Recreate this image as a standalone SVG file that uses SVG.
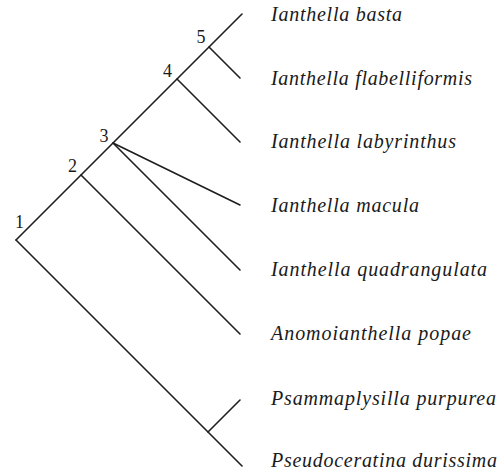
<svg xmlns="http://www.w3.org/2000/svg" width="504" height="473" viewBox="0 0 504 473">
<style>
.br{stroke:#1e1e1e;stroke-width:1.6;fill:none;stroke-linecap:round}
.sp{font-family:"Liberation Serif","Times New Roman",serif;font-style:italic;font-size:20px;fill:#1a1a1a}
.nm{font-family:"Liberation Serif","Times New Roman",serif;font-size:18px;fill:#1a1a1a;text-anchor:middle}
</style>
<rect width="504" height="473" fill="#ffffff"/>
<g id="connectors">
<line class="br" x1="16" y1="240" x2="242" y2="14"/>
<line class="br" x1="16" y1="240" x2="242" y2="466"/>
<line class="br" x1="209" y1="47" x2="240" y2="78"/>
<line class="br" x1="177" y1="79" x2="240" y2="142"/>
<line class="br" x1="113" y1="143" x2="240" y2="205"/>
<line class="br" x1="113" y1="143" x2="240" y2="270"/>
<line class="br" x1="81" y1="175" x2="240" y2="334"/>
<line class="br" x1="208" y1="432" x2="240" y2="400"/>
</g>
<g id="n1"><text class="nm" x="19.5" y="228">1</text></g>
<g id="n2"><text class="nm" x="72.5" y="172">2</text></g>
<g id="n3"><text class="nm" x="104" y="142">3</text></g>
<g id="n4"><text class="nm" x="167.5" y="77">4</text></g>
<g id="n5"><text class="nm" x="201" y="43">5</text></g>
<g id="t1"><text class="sp" x="271" y="21" textLength="131" lengthAdjust="spacing">Ianthella basta</text></g>
<g id="t2"><text class="sp" x="271" y="85" textLength="201" lengthAdjust="spacing">Ianthella flabelliformis</text></g>
<g id="t3"><text class="sp" x="271" y="148" textLength="185" lengthAdjust="spacing">Ianthella labyrinthus</text></g>
<g id="t4"><text class="sp" x="271" y="212" textLength="148" lengthAdjust="spacing">Ianthella macula</text></g>
<g id="t5"><text class="sp" x="271" y="276" textLength="216" lengthAdjust="spacing">Ianthella quadrangulata</text></g>
<g id="t6"><text class="sp" x="271" y="340" textLength="200" lengthAdjust="spacing">Anomoianthella popae</text></g>
<g id="t7"><text class="sp" x="271" y="405" textLength="225" lengthAdjust="spacing">Psammaplysilla purpurea</text></g>
<g id="t8"><text class="sp" x="271" y="467" textLength="226" lengthAdjust="spacing">Pseudoceratina durissima</text></g>
</svg>
